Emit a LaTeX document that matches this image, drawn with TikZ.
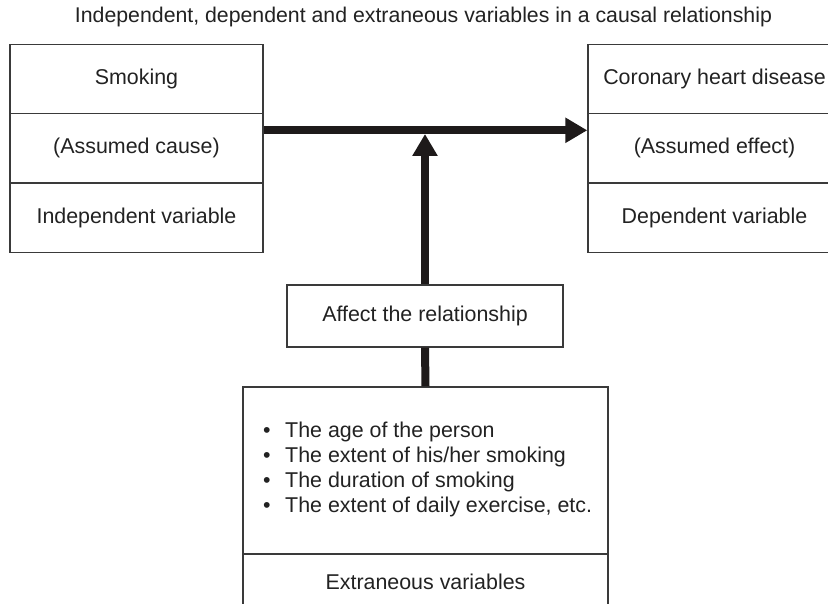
\documentclass[tikz,border=0pt]{standalone}
\usepackage{fontspec}
\setmainfont{Liberation Sans}
\usetikzlibrary{arrows.meta}
\definecolor{txt}{HTML}{222222}
\definecolor{boxgray}{HTML}{3A3A3A}
\definecolor{arr}{HTML}{1E1A1A}
\newcommand{\fsmain}{\fontsize{21.4}{25}\selectfont}
\begin{document}
\begin{tikzpicture}[x=1pt,y=-1pt,
  boxcell/.style={draw=boxgray, line width=1.4pt, inner sep=0pt, text=txt, font=\fsmain},
  sidecell/.style={boxcell, minimum width=253pt, minimum height=69.3pt},
  fatline/.style={draw=arr, line width=8pt},
  fatarrow/.style={fatline, -{Triangle[length=22pt,width=24pt]}}]
\useasboundingbox (0,0) rectangle (828,604);
\clip (0,0) rectangle (828,604);
\fill[white] (0,0) rectangle (828,604);
% title
\node[text=txt, inner sep=0pt, anchor=base] (title) at (423.5,23)
  {\resizebox{697pt}{!}{\fsmain Independent, dependent and extraneous variables in a causal relationship}};
% left box
\node[sidecell] (l1) at (136.5,79) {Smoking};
\node[sidecell] (l2) at (136.5,148.3) {(Assumed cause)};
\node[sidecell] (l3) at (136.5,217.6) {Independent variable};
% right box
\node[sidecell] (r1) at (714.5,79) {Coronary heart disease};
\node[sidecell] (r2) at (714.5,148.3) {(Assumed effect)};
\node[sidecell] (r3) at (714.5,217.6) {Dependent variable};
% affect box
\node[boxcell, minimum width=276pt, minimum height=62pt] (aff) at (425,316) {Affect the relationship};
% extraneous box
\node[boxcell, minimum width=365pt, minimum height=167pt] (ext) at (425.5,470.5) {};
\node[boxcell, minimum width=365pt, minimum height=55pt] (extlab) at (425.5,581.5) {Extraneous variables};
\node[anchor=west, inner sep=0pt, align=left, text=txt, font=\fsmain] (list) at (263,469.5)
  {\makebox[22pt][l]{•}The age of the person\\
   \makebox[22pt][l]{•}The extent of his/her smoking\\
   \makebox[22pt][l]{•}The duration of smoking\\
   \makebox[22pt][l]{•}The extent of daily exercise, etc.};
% connectors
\coordinate (join) at (425,134);
\draw[fatarrow] ([yshift=18pt]l2.east) -- ([yshift=18pt]r2.west);
\draw[fatarrow] (aff.north -| join) -- (join);
\draw[fatline] (aff.south) -- (ext.north);
\end{tikzpicture}
\end{document}
